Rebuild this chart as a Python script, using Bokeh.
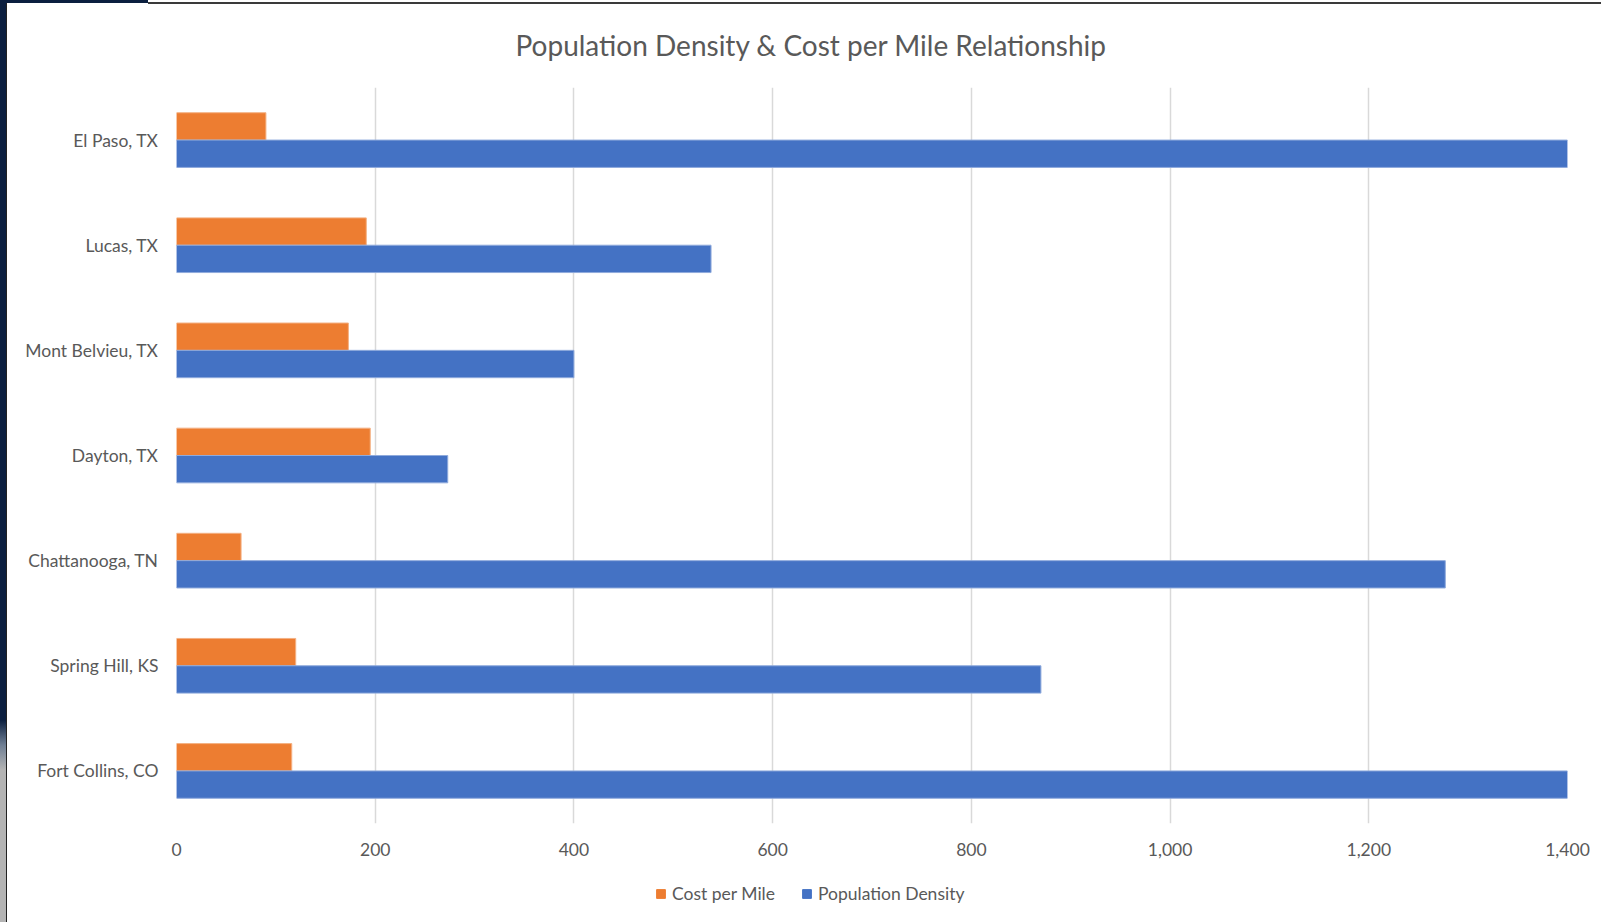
from bokeh.plotting import figure
from bokeh.layouts import column, row
from bokeh.models import (FactorRange, Range1d, Legend, LegendItem, NumeralTickFormatter,
                          FixedTicker, ColumnDataSource, Div)
from bokeh.transform import dodge
from bokeh.embed import file_html
from bokeh.resources import INLINE

# data (top to bottom in the chart)
cities = ["El Paso, TX", "Lucas, TX", "Mont Belvieu, TX", "Dayton, TX",
          "Chattanooga, TN", "Spring Hill, KS", "Fort Collins, CO"]
cost_per_mile = [90, 191, 173, 195, 65, 120, 116]
population_density = [2600, 538, 400, 273, 1277, 870, 2900]
x_ticks = [0, 200, 400, 600, 800, 1000, 1200, 1400]
series_names = ["Cost per Mile", "Population Density"]
series_colors = ["#ED7D31", "#4472C4"]
series_edges = ["#F4B183", "#8FAADC"]

FONT = "Lato"
TXT = "#595959"
LEFT_STRIP = 7

factors = list(reversed(cities))
src = ColumnDataSource(dict(city=cities, cost=cost_per_mile, pop=population_density))

p = figure(width=1601 - LEFT_STRIP, height=872, y_range=FactorRange(factors=factors),
           x_range=Range1d(0, 1400), output_backend="svg", toolbar_location=None,
           min_border_left=176 - LEFT_STRIP, min_border_right=34,
           min_border_top=85, min_border_bottom=49,
           title="Population Density & Cost per Mile Relationship")
p.outline_line_color = None
p.background_fill_color = "white"
p.border_fill_color = "white"

p.title.align = "left"
p.title.offset = 339
p.title.text_font = FONT
p.title.text_font_style = "normal"
p.title.text_font_size = "28px"
p.title.text_line_height = 0.7
p.title.text_color = TXT
p.title.standoff = 51

p.hbar(y=dodge("city", 0.13, range=p.y_range), right="cost", left=0, height=0.26,
       source=src, fill_color=series_colors[0], line_color=series_edges[0], line_width=1)
p.hbar(y=dodge("city", -0.13, range=p.y_range), right="pop", left=0, height=0.26,
       source=src, fill_color=series_colors[1], line_color=series_edges[1], line_width=1)

p.xaxis.ticker = FixedTicker(ticks=x_ticks)
p.xaxis.formatter = NumeralTickFormatter(format="0,0")
for ax in (p.xaxis[0], p.yaxis[0]):
    ax.axis_line_color = None
    ax.major_tick_line_color = None
    ax.minor_tick_line_color = None
    ax.major_label_text_font = FONT
    ax.major_label_text_font_size = "17.5px"
    ax.major_label_text_color = TXT
p.xaxis.major_label_standoff = 13
p.yaxis.major_label_standoff = 12

p.xgrid.grid_line_color = "#d9d9d9"
p.xgrid.grid_line_width = 1.5
p.xgrid.level = "underlay"
p.ygrid.grid_line_color = None

# legend strip below the chart
lf = figure(width=1601 - LEFT_STRIP, height=50, x_range=Range1d(0, 1), y_range=Range1d(0, 1),
            output_backend="svg", toolbar_location=None,
            min_border_left=0, min_border_right=0, min_border_top=0, min_border_bottom=0)
lf.axis.visible = False
lf.grid.visible = False
lf.outline_line_color = None
dummy = ColumnDataSource(dict(y=[-5], right=[1]))
items = []
for name, col in zip(series_names, series_colors):
    r = lf.hbar(y="y", right="right", left=0, height=0.1, source=dummy,
                fill_color=col, line_color=col)
    items.append(LegendItem(label=name, renderers=[r]))
legend = Legend(items=items, orientation="horizontal", location=(479, 18),
                label_text_font=FONT, label_text_font_size="17.5px", label_text_color=TXT,
                glyph_width=11, glyph_height=11, spacing=26, label_standoff=6,
                border_line_color=None, background_fill_alpha=0, padding=0, margin=0)
lf.add_layout(legend, "center")

# dark window frame on the left edge plus thin line across the top (screenshot border)
frame_html = ('<div style="position:absolute;left:0;top:0;width:148px;height:3px;background:#0B1F3F;"></div>'
              '<div style="position:absolute;left:148px;top:2px;width:1453px;height:2px;background:#3a3a3a;"></div>')
left = Div(text=frame_html, width=LEFT_STRIP, height=922, margin=0,
           styles={"background": "linear-gradient(to bottom, #0B1F3F 0px, #0B1F3F 720px, "
                                 "#6f7f94 745px, #B4B4B4 770px, #B4B4B4 100%)",
                   "border-right": "1px solid #222", "overflow": "visible",
                   "position": "relative", "z-index": "10"})

layout = row(left, column(p, lf, spacing=0), spacing=0)
open("out.html", "w").write(file_html(layout, INLINE))
